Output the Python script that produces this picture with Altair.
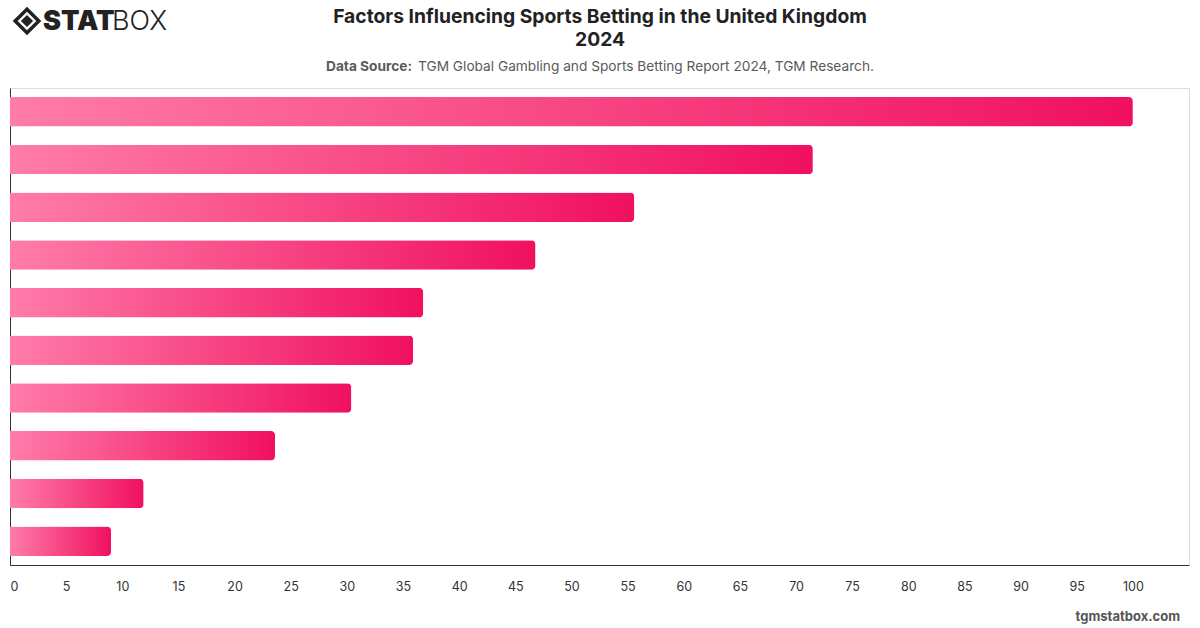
import altair as alt
import pandas as pd

# Factor shares (%), largest first; the factor names are not printed on the axis
factors = [
    "Factor 1", "Factor 2", "Factor 3", "Factor 4", "Factor 5",
    "Factor 6", "Factor 7", "Factor 8", "Factor 9", "Factor 10",
]
shares = [100.0, 71.5, 55.6, 46.8, 36.8, 35.9, 30.4, 23.6, 11.9, 9.0]
tick_values = list(range(0, 101, 5))

title_lines = ["Factors Influencing Sports Betting in the United Kingdom", "2024"]
source_label = "Data Source:"
source_text = "TGM Global Gambling and Sports Betting Report 2024, TGM Research."
footer_text = "tgmstatbox.com"

FONT = "Inter"
W, H = 1179, 477

df = pd.DataFrame({"factor": factors, "share": shares})

bar_fill = alt.Gradient(
    gradient="linear",
    x1=0, x2=1, y1=0, y2=0,
    stops=[
        alt.GradientStop(color="#FF7CAA", offset=0),
        alt.GradientStop(color="#F0105F", offset=1),
    ],
)

bars = alt.Chart(df).mark_bar(color=bar_fill, cornerRadiusEnd=4).encode(
    x=alt.X(
        "share:Q",
        scale=alt.Scale(domain=[0, 105], nice=False, zero=True),
        axis=alt.Axis(
            values=tick_values, title=None, grid=False, ticks=False,
            labelPadding=15, labelFontSize=12.5, labelColor="#333333",
            labelFont=FONT, domainColor="#333333", domainWidth=1,
        ),
    ),
    y=alt.Y(
        "factor:N",
        sort=None,
        scale=alt.Scale(paddingInner=0.382, paddingOuter=0.19),
        axis=alt.Axis(
            labels=False, ticks=False, title=None, grid=False,
            domainColor="#333333", domainWidth=1,
        ),
    ),
)


def label(text, x, y, size, weight="normal", color="#222222", align="center", font=FONT):
    return alt.Chart(pd.DataFrame({"t": [text]})).mark_text(
        font=font, fontSize=size, fontWeight=weight, color=color,
        align=align, baseline="middle",
    ).encode(x=alt.value(x), y=alt.value(y), text="t:N")


# Header: two-line title and source line
title1 = label(title_lines[0], 590, -71, 19.3, "bold")
title2 = label(title_lines[1], 590, -48, 19.3, "bold")
src_bold = label(source_label, 316, -21, 13.7, "bold", "#5a5a5a", "left")
src_rest = label(source_text, 408, -21, 13.7, "normal", "#5a5a5a", "left")

# Logo: diamond emblem plus the STAT/BOX wordmark
outer = alt.Chart(pd.DataFrame({"k": ["o"]})).mark_point(
    shape="diamond", size=560, filled=False, strokeWidth=3.5, color="#222222", opacity=1
).encode(x=alt.value(17), y=alt.value(-67))
inner = alt.Chart(pd.DataFrame({"k": ["i"]})).mark_point(
    shape="diamond", size=150, filled=True, color="#222222", opacity=1
).encode(x=alt.value(17), y=alt.value(-67))
logo_stat = label("STAT", 33, -66, 27, 900, "#222222", "left")
logo_box = label("BOX", 102, -66, 27, 300, "#222222", "left")

footer = label(footer_text, 1170, 529, 13, "bold", "#555555", "right")

chart = alt.layer(
    bars, title1, title2, src_bold, src_rest, outer, inner, logo_stat, logo_box, footer
).properties(
    width=W, height=H,
    autosize=alt.AutoSizeParams(type="none"),
    padding={"left": 10, "top": 88, "right": 11, "bottom": 63},
).configure_view(stroke=None).configure(background="white")

chart.save("out.html", embed_options={"renderer": "svg", "actions": False})
